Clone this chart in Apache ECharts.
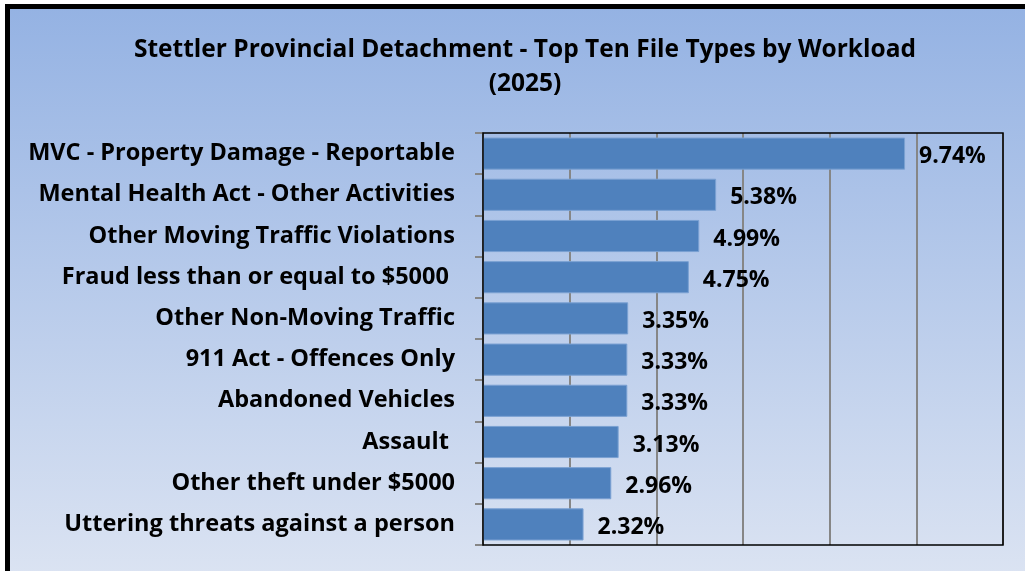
<!DOCTYPE html>
<html>
<head>
<meta charset="utf-8">
<script src="https://cdn.jsdelivr.net/npm/echarts@6/dist/echarts.min.js"></script>
<style>
html,body{margin:0;padding:0;background:#fff;}
#chart{width:1025px;height:571px;}
</style>
</head>
<body>
<div id="chart"></div>
<script>
// data, top bar first
let categories=['MVC - Property Damage - Reportable','Mental Health Act - Other Activities','Other Moving Traffic Violations','Fraud less than or equal to $5000 ','Other Non-Moving Traffic','911 Act - Offences Only','Abandoned Vehicles','Assault ','Other theft under $5000','Uttering threats against a person'];
let shares=[9.74,5.38,4.99,4.75,3.35,3.33,3.33,3.13,2.96,2.32];
let titleLines=['Stettler Provincial Detachment - Top Ten File Types by Workload','(2025)'];

const fontFam='"Open Sans", "Noto Sans", sans-serif';

function initChart(domid){
	let dom=document.getElementById(domid);
	if(dom==null) return;
	let inst=echarts.getInstanceByDom(dom);
	if(inst) return inst;
	return echarts.init(dom,null,{renderer:'canvas'});
}

let mychart=initChart('chart');

// category axis runs bottom-up, so reverse so the biggest is on top
let cats=categories.slice().reverse();
let vals=shares.slice().reverse();

let option={
	animation:false,
	backgroundColor:'#ffffff',
	title:{
		text:titleLines.join('\n'),
		left:520,
		textAlign:'center',
		top:28,
		textStyle:{fontFamily:fontFam,fontWeight:'bold',fontSize:24.5,color:'#000',lineHeight:34}
	},
	graphic:[{
		type:'rect',
		z:-10,
		shape:{x:7.5,y:6.5,width:1040,height:600},
		style:{
			fill:new echarts.graphic.LinearGradient(0,0,0,1,[
				{offset:0,color:'#94b2e3'},
				{offset:1,color:'#dfe6f3'}
			]),
			stroke:'#000',
			lineWidth:5
		}
	},{
		// plot area frame
		type:'rect',
		z:5,
		shape:{x:483,y:133,width:520,height:412},
		style:{fill:'none',stroke:'#000',lineWidth:1.5}
	}],
	grid:{left:483,top:133,width:520,height:412,containLabel:false},
	xAxis:{
		type:'value',
		min:0,max:12,interval:2,
		axisLabel:{show:false},
		axisLine:{show:false},
		axisTick:{show:false},
		splitLine:{show:true,lineStyle:{color:'#868686',width:2}}
	},
	yAxis:{
		type:'category',
		data:cats,
		axisLine:{show:true,lineStyle:{color:'#868686',width:2}},
		axisTick:{show:true,length:8,lineStyle:{color:'#868686',width:2}},
		axisLabel:{margin:28,fontFamily:fontFam,fontWeight:'bold',fontSize:23.5,color:'#000',padding:[4,0,0,0]}
	},
	series:[{
		type:'bar',
		data:vals,
		barCategoryGap:'22%',
		itemStyle:{color:'#4f81bd',borderColor:'#7aa0d2',borderWidth:1},
		label:{
			show:true,
			position:'right',
			distance:14,
			formatter:function(p){return p.value.toFixed(2)+'%';},
			fontFamily:fontFam,fontWeight:'bold',fontSize:23,color:'#000',
			offset:[0,3]
		},
		z:3
	}]
};

mychart.setOption(option,true);
</script>
</body>
</html>
